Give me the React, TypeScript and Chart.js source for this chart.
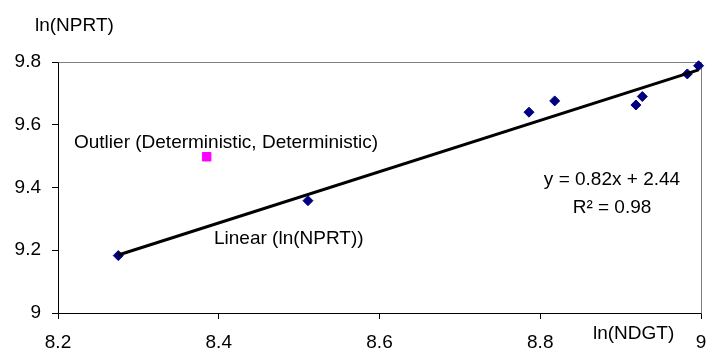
import React, { useEffect, useRef } from "react";
import { Chart, registerables } from "chart.js";

Chart.register(...registerables);

// Data
const ndgt = [8.275, 8.511, 8.786, 8.818, 8.919, 8.927, 8.983, 8.997];
const nprt = [9.183, 9.358, 9.64, 9.676, 9.663, 9.69, 9.762, 9.788];
const outlierX = [8.385];
const outlierY = [9.498];

const xTicks = [8.2, 8.4, 8.6, 8.8, 9];
const yTicks = [9, 9.2, 9.4, 9.6, 9.8];

const xTitle = "ln(NDGT)";
const yTitle = "ln(NPRT)";
const outlierLabel = "Outlier (Deterministic, Deterministic)";
const trendLabel = "Linear (ln(NPRT))";
const equationText = "y = 0.82x + 2.44";
const r2Text = "R\u00B2 = 0.98";

const FONT = "'Liberation Sans', Arial, Helvetica, sans-serif";
const FS = 19;

function fitLine(xs: number[], ys: number[]) {
  const n = xs.length;
  const mx = xs.reduce((a, b) => a + b, 0) / n;
  const my = ys.reduce((a, b) => a + b, 0) / n;
  let sxy = 0;
  let sxx = 0;
  for (let i = 0; i < n; i++) {
    sxy += (xs[i] - mx) * (ys[i] - my);
    sxx += (xs[i] - mx) * (xs[i] - mx);
  }
  const slope = sxy / sxx;
  const intercept = my - slope * mx;
  return { slope, intercept };
}

export default function App() {
  const ref = useRef<HTMLCanvasElement | null>(null);

  useEffect(() => {
    if (!ref.current) return;
    const { slope, intercept } = fitLine(ndgt, nprt);
    const xmin = Math.min(...ndgt);
    const xmax = Math.max(...ndgt);

    const decorations = {
      id: "decorations",
      beforeDatasetsDraw(chart: any) {
        const { ctx, chartArea } = chart;
        ctx.save();
        ctx.strokeStyle = "#808080";
        ctx.lineWidth = 1;
        ctx.beginPath();
        ctx.moveTo(Math.round(chartArea.left) + 0.5, Math.round(chartArea.top) + 0.5);
        ctx.lineTo(Math.round(chartArea.right) + 0.5, Math.round(chartArea.top) + 0.5);
        ctx.lineTo(Math.round(chartArea.right) + 0.5, Math.round(chartArea.bottom) + 0.5);
        ctx.stroke();
        ctx.restore();
      },
      afterDraw(chart: any) {
        const { ctx } = chart;
        ctx.save();
        ctx.fillStyle = "#000";
        ctx.font = `${FS}px ${FONT}`;
        ctx.textBaseline = "alphabetic";
        ctx.textAlign = "left";
        ctx.fillText(yTitle, 35, 31);
        ctx.fillText(xTitle, 593, 339);
        ctx.fillText(outlierLabel, 74, 148);
        ctx.fillText(trendLabel, 214, 244);
        ctx.textAlign = "center";
        ctx.fillText(equationText, 612, 185);
        ctx.fillText(r2Text, 612, 213);
        ctx.restore();
      },
    };

    const zeroPad = (scale: any) => {
      scale.paddingLeft = 0;
      scale.paddingRight = 0;
      scale.paddingTop = 0;
      scale.paddingBottom = 0;
    };

    const chart = new Chart(ref.current, {
      type: "scatter",
      data: {
        datasets: [
          {
            type: "line",
            label: trendLabel,
            data: [
              { x: xmin, y: slope * xmin + intercept },
              { x: xmax, y: slope * xmax + intercept },
            ],
            borderColor: "#000000",
            borderWidth: 3,
            pointRadius: 0,
            fill: false,
            order: 0,
            clip: false,
          } as any,
          {
            label: "ln(NPRT)",
            data: ndgt.map((x, i) => ({ x, y: nprt[i] })),
            pointStyle: "rectRot",
            pointRadius: 5,
            backgroundColor: "#000080",
            borderColor: "#000080",
            borderWidth: 1,
            order: 1,
            clip: false,
          } as any,
          {
            label: outlierLabel,
            data: outlierX.map((x, i) => ({ x, y: outlierY[i] })),
            pointStyle: "rect",
            pointRadius: 6,
            backgroundColor: "#FF00FF",
            borderColor: "#FF00FF",
            borderWidth: 1,
            order: 2,
            clip: false,
          } as any,
        ],
      },
      options: {
        animation: false,
        responsive: false,
        devicePixelRatio: 1,
        layout: { padding: { top: 62, right: 6, left: 0, bottom: 0 } },
        plugins: {
          legend: { display: false },
          tooltip: { enabled: false },
          title: { display: false },
        },
        scales: {
          x: {
            type: "linear",
            min: xTicks[0],
            max: xTicks[xTicks.length - 1],
            afterBuildTicks: (scale: any) => {
              scale.ticks = xTicks.map((v) => ({ value: v }));
            },
            ticks: {
              color: "#000",
              font: { family: FONT, size: FS },
              padding: 12,
              maxRotation: 0,
              autoSkip: false,
              callback: (v: any) => String(Number(Number(v).toFixed(1))),
            },
            grid: {
              display: true,
              drawOnChartArea: false,
              drawTicks: true,
              tickLength: 6,
              color: "#000",
            },
            border: { display: true, color: "#000", width: 1 },
            afterFit: (scale: any) => {
              scale.height = 37;
              zeroPad(scale);
            },
          },
          y: {
            type: "linear",
            min: yTicks[0],
            max: yTicks[yTicks.length - 1],
            afterBuildTicks: (scale: any) => {
              scale.ticks = yTicks.map((v) => ({ value: v }));
            },
            ticks: {
              color: "#000",
              font: { family: FONT, size: FS },
              padding: 11,
              autoSkip: false,
              callback: (v: any) => String(Number(Number(v).toFixed(1))),
            },
            grid: {
              display: true,
              drawOnChartArea: false,
              drawTicks: true,
              tickLength: 6,
              color: "#000",
            },
            border: { display: true, color: "#000", width: 1 },
            afterFit: (scale: any) => {
              scale.width = 58;
              zeroPad(scale);
            },
          },
        },
      },
      plugins: [decorations],
    });

    return () => chart.destroy();
  }, []);

  return (
    <div style={{ position: "absolute", left: 0, top: 0, width: 708, height: 350, background: "#fff" }}>
      <canvas ref={ref} width={708} height={350} style={{ display: "block" }} />
    </div>
  );
}
